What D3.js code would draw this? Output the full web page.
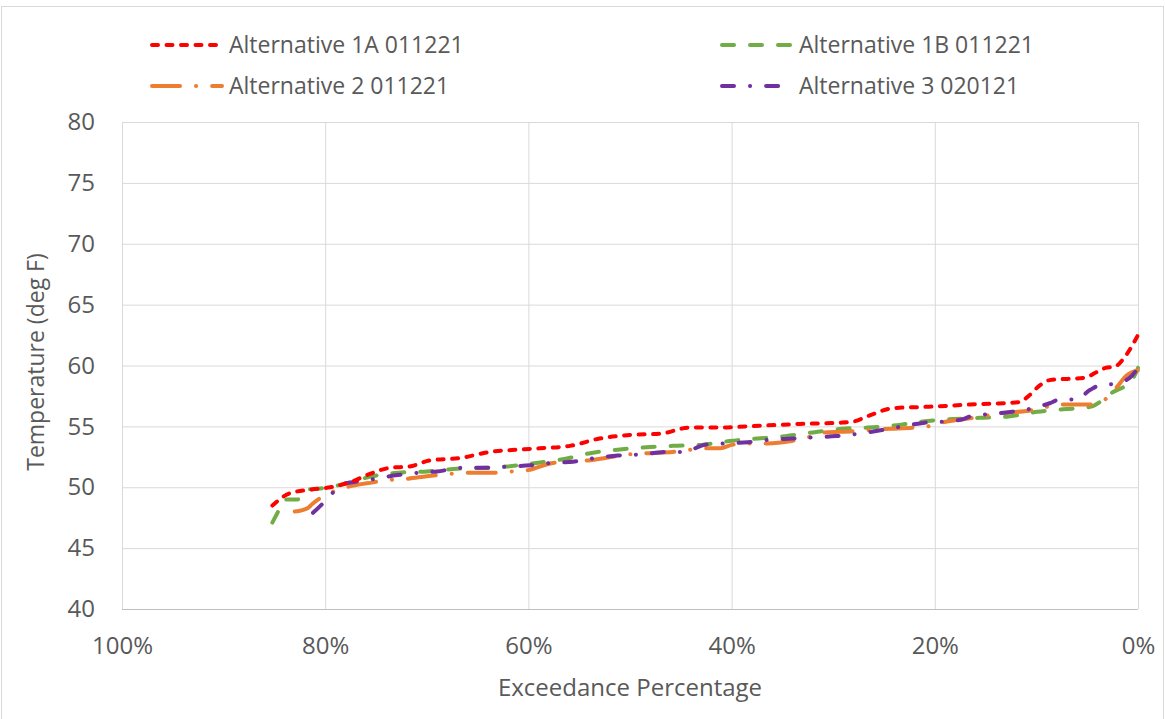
<!DOCTYPE html>
<html><head><meta charset="utf-8">
<script src="https://cdn.jsdelivr.net/npm/d3@7"></script>
<style>
body{margin:0;background:#fff;}
text{font-family:"Open Sans","Segoe UI",sans-serif;fill:#595959;}
</style></head>
<body><svg id="c" width="1165" height="719"></svg>
<script>
const seriesNames = ["Alternative 1A 011221","Alternative 1B 011221","Alternative 2 011221","Alternative 3 020121"];
const xTicks = [100,80,60,40,20,0];
const yTicks = [40,45,50,55,60,65,70,75,80];

// exceedance %, temperature (deg F)
const alt1A_x = [85.2,83.5,81.5,79.5,77.6,75.6,73.6,71.7,69.7,66.7,63.8,60.8,58.9,55.9,53.0,50.0,47.0,44.1,41.1,38.5,33.3,29.3,28.0,26.4,24.1,21.0,18.5,16.5,11.6,10.9,9.6,8.7,5.2,4.2,3.2,2.3,1.3,0];
const alt1A_y = [48.5,49.5,49.8,50.0,50.4,51.1,51.6,51.7,52.2,52.4,52.9,53.1,53.2,53.4,54.0,54.3,54.4,54.9,54.9,55.0,55.2,55.3,55.4,55.9,56.5,56.6,56.7,56.8,57.0,57.4,58.4,58.8,59.0,59.4,59.8,59.9,60.7,62.5];

const alt1B_x = [85.2,84.7,84.0,82.7,81.7,80.5,78.0,75.4,72.8,70.0,67.4,62.1,59.2,56.6,53.9,51.0,48.0,45.8,42.8,40.2,37.4,34.7,32.0,29.1,26.6,23.7,21.2,18.2,15.6,12.9,9.9,7.4,4.7,2.5,0.6,0];
const alt1B_y = [47.1,47.9,49.0,49.0,49.8,49.9,50.3,50.9,51.2,51.3,51.5,51.7,52.0,52.3,52.8,53.1,53.3,53.4,53.5,53.8,54.0,54.2,54.5,54.8,54.9,55.1,55.4,55.6,55.7,55.8,56.2,56.4,56.6,57.8,58.8,59.8];

const alt2_x = [83.0,81.7,81.3,80.5,77.9,75.3,73.6,71.9,70.0,67.7,66.0,63.3,61.6,60.1,57.6,54.2,51.7,50.0,48.3,45.8,42.4,41.1,39.9,38.2,36.5,34.1,32.5,30.8,28.1,26.6,24.4,22.1,20.7,18.8,16.2,13.3,10.6,9.0,7.4,4.7,3.1,2.1,1.1,0];
const alt2_y = [48.0,48.3,48.6,49.1,50.0,50.4,50.6,50.7,50.9,51.1,51.2,51.2,51.3,51.4,52.0,52.2,52.5,52.7,52.8,52.9,53.2,53.2,53.5,53.6,53.6,53.8,54.1,54.5,54.6,54.7,54.8,54.9,55.0,55.4,55.7,56.1,56.3,56.6,56.8,56.8,57.3,58.2,59.2,59.6];

const alt3_x = [81.2,80.2,79.2,78.5,76.6,75.0,72.9,70.7,69.0,66.4,64.1,62.0,59.8,57.7,55.6,53.4,51.2,49.0,46.3,44.7,42.6,40.5,38.4,36.2,34.0,31.9,29.7,27.5,25.2,23.2,21.0,18.9,17.2,16.2,14.7,12.4,10.3,8.7,7.7,6.1,4.7,3.7,2.3,0.8,0];
const alt3_y = [47.9,48.7,49.6,50.2,50.5,50.7,51.0,51.2,51.3,51.6,51.6,51.7,51.8,52.0,52.1,52.4,52.6,52.7,52.9,52.9,53.5,53.6,53.7,53.9,54.0,54.1,54.2,54.4,54.7,55.0,55.3,55.4,55.6,55.9,56.0,56.2,56.5,56.9,57.2,57.2,58.0,58.4,58.5,59.0,59.8];

const colors = ["#FF0000","#70AD47","#ED7D31","#7030A0"];
const dashes = ["6,8.5","12,16","28,16,0.1,16","12,16,0.1,16"];

const svg = d3.select("#c");
svg.append("rect").attr("x",1.5).attr("y",6.5).attr("width",1162).attr("height",716)
  .attr("fill","#fff").attr("stroke","#D9D9D9").attr("stroke-width",1);

const L=122,R=1138,T=122,B=609;
const x = d3.scaleLinear().domain([100,0]).range([L,R]);
const y = d3.scaleLinear().domain([40,80]).range([B,T]);

// grid
const g = svg.append("g");
g.selectAll(".hg").data(yTicks.slice(1)).join("line")
  .attr("x1",L).attr("x2",R).attr("y1",d=>y(d)+0.5).attr("y2",d=>y(d)+0.5)
  .attr("stroke","#D9D9D9").attr("stroke-width",1);
g.selectAll(".vg").data(xTicks).join("line")
  .attr("y1",T).attr("y2",B).attr("x1",d=>x(d)+0.5).attr("x2",d=>x(d)+0.5)
  .attr("stroke","#D9D9D9").attr("stroke-width",1);
g.append("line").attr("x1",L).attr("x2",R).attr("y1",B+0.5).attr("y2",B+0.5)
  .attr("stroke","#BFBFBF").attr("stroke-width",1);

const FS = "24px";
// axes labels
const yAxis = d3.axisLeft(y).tickValues(yTicks).tickSize(0).tickPadding(27);
const ya = svg.append("g").attr("transform",`translate(${L},0)`).call(yAxis);
ya.select(".domain").remove();
ya.selectAll("text").style("font-size",FS).attr("fill","#595959").style("font-family","'Open Sans',sans-serif");

const xAxis = d3.axisBottom(x).tickValues(xTicks).tickSize(0).tickPadding(28).tickFormat(d=>d+"%");
const xa = svg.append("g").attr("transform",`translate(0,${B})`).call(xAxis);
xa.select(".domain").remove();
xa.selectAll("text").style("font-size",FS).attr("fill","#595959").style("font-family","'Open Sans',sans-serif");

svg.append("text").attr("x",(L+R)/2).attr("y",696).attr("text-anchor","middle")
  .style("font-size",FS).text("Exceedance Percentage");
svg.append("text").attr("transform","translate(44,362) rotate(-90)").attr("text-anchor","middle")
  .style("font-size","23px").text("Temperature (deg F)");

// lines
const data = [
  d3.zip(alt1A_x,alt1A_y), d3.zip(alt1B_x,alt1B_y), d3.zip(alt2_x,alt2_y), d3.zip(alt3_x,alt3_y)
];
const line = d3.line().x(d=>x(d[0])).y(d=>y(d[1])).curve(d3.curveMonotoneX);
[1,2,3,0].forEach(i=>{
  svg.append("path").datum(data[i].slice().sort((a,b)=>b[0]-a[0])).attr("d",line)
    .attr("fill","none").attr("stroke",colors[i]).attr("stroke-width",4)
    .attr("stroke-dasharray",dashes[i]).attr("stroke-linecap","round");
});

// legend
const legPos = [[152,45],[722,45],[152,86],[722,86]];
seriesNames.forEach((n,i)=>{
  const [lx,ly] = legPos[i];
  svg.append("line").attr("x1",lx).attr("x2",lx+70).attr("y1",ly).attr("y2",ly)
    .attr("stroke",colors[i]).attr("stroke-width",4).attr("stroke-dasharray",dashes[i]).attr("stroke-linecap","round");
  svg.append("text").attr("x",lx+77).attr("y",ly+8).style("font-size","23px").text(n);
});
</script></body></html>
